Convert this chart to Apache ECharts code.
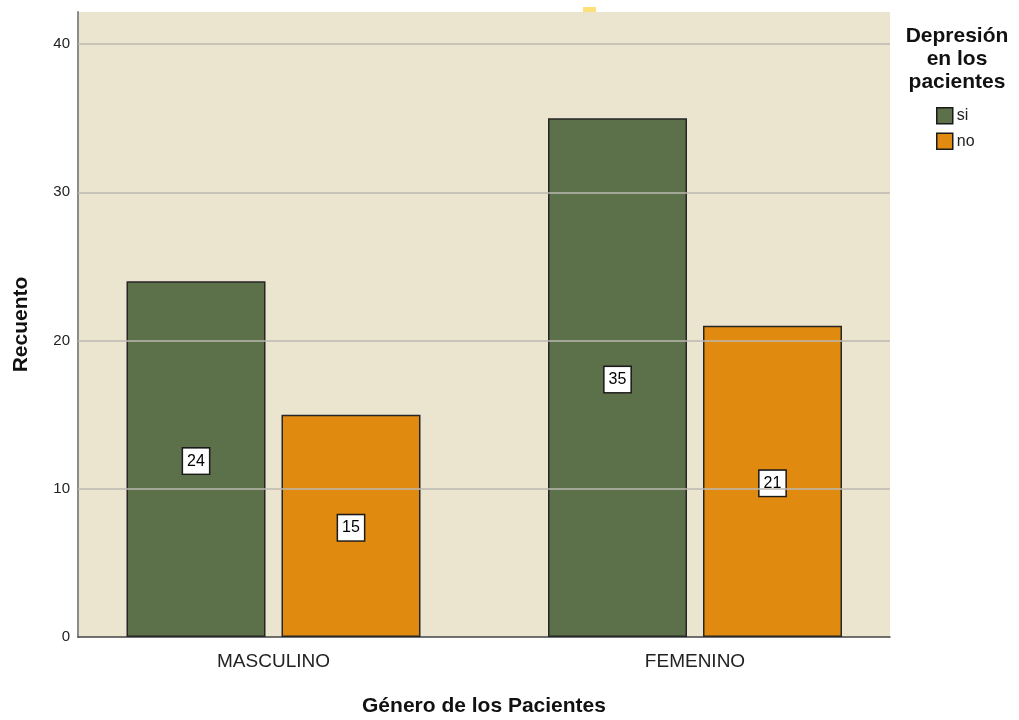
<!DOCTYPE html>
<html>
<head>
<meta charset="utf-8">
<script src="https://cdn.jsdelivr.net/npm/echarts@6/dist/echarts.min.js"></script>
<style>
  html, body { margin: 0; padding: 0; background: #ffffff; }
  #chart { width: 1019px; height: 720px; }
</style>
</head>
<body>
<div id="chart"></div>
<script>
// Recuento de pacientes por género y depresión
const categories = ['MASCULINO', 'FEMENINO'];
const seriesNames = ['si', 'no'];
const valuesSi = [24, 35];
const valuesNo = [15, 21];
const gridValues = [10, 20, 30, 40];

const FONT = '"Liberation Sans", Arial, sans-serif';
const Y_MAX = 42.16;

const chart = echarts.init(document.getElementById('chart'), null, { renderer: 'canvas' });

const labelStyle = {
  show: true,
  position: 'inside',
  offset: [0, 2],
  color: '#000',
  fontFamily: FONT,
  fontSize: 16,
  lineHeight: 16,
  backgroundColor: '#ffffff',
  borderColor: '#1a1a1a',
  borderWidth: 1.5,
  padding: [5, 4, 4, 4]
};

chart.setOption({
  animation: false,
  backgroundColor: '#ffffff',
  grid: [
    { left: 78, top: 12, width: 812, height: 625, show: true, backgroundColor: '#ebe4cf', borderWidth: 0,
      containLabel: false, outerBoundsMode: 'none' },
    { left: 62.75, top: 12, width: 843, height: 625, show: false,
      containLabel: false, outerBoundsMode: 'none' }
  ],
  xAxis: [
    {
      gridIndex: 0, type: 'category', data: categories,
      axisLine: { show: true, lineStyle: { color: '#444444', width: 1.5 } },
      axisTick: { show: false }, axisLabel: { show: false },
      name: 'Género de los Pacientes', nameLocation: 'middle', nameGap: 59,
      nameTextStyle: { fontFamily: FONT, fontSize: 21, fontWeight: 'bold', color: '#111' }
    },
    {
      gridIndex: 1, type: 'category', data: categories,
      axisLine: { show: false }, axisTick: { show: false },
      axisLabel: { fontFamily: FONT, fontSize: 19, color: '#222', margin: 15 }
    }
  ],
  yAxis: [
    {
      gridIndex: 0, type: 'value', min: 0, max: Y_MAX, interval: 10,
      axisLine: { show: true, lineStyle: { color: '#8c8c8c', width: 2 } },
      axisTick: { show: false },
      splitLine: { show: false },
      axisLabel: {
        fontFamily: FONT, fontSize: 15, color: '#222', margin: 8,
        padding: [6, 0, 0, 0],
        formatter: v => (v % 10 === 0 ? String(v) : '')
      },
      name: 'Recuento', nameLocation: 'middle', nameGap: 46, nameRotate: 90,
      nameTextStyle: { fontFamily: FONT, fontSize: 21, fontWeight: 'bold', color: '#111' }
    },
    {
      gridIndex: 1, type: 'value', min: 0, max: Y_MAX, show: false
    }
  ],
  legend: {
    orient: 'vertical', left: 936, top: 107, padding: 0,
    itemWidth: 16, itemHeight: 16, itemGap: 8,
    icon: 'rect',
    itemStyle: { borderColor: '#1a1a1a', borderWidth: 1.5 },
    textStyle: { fontFamily: FONT, fontSize: 16, lineHeight: 16, color: '#222', padding: [0, 0, 0, -1] },
    data: seriesNames
  },
  graphic: [
    {
      type: 'text', x: 957, y: 25,
      style: {
        text: 'Depresión\nen los\npacientes',
        align: 'center', verticalAlign: 'top',
        font: 'bold 21px ' + FONT, lineHeight: 23, fill: '#111'
      }
    },
    {
      type: 'rect', shape: { x: 583, y: 7, width: 13, height: 5 },
      style: { fill: '#fde07c' }, z: 10
    }
  ],
  series: [
    {
      type: 'line', xAxisIndex: 0, yAxisIndex: 0, data: [], z: 1, silent: true,
      markLine: {
        symbol: 'none', silent: true, label: { show: false },
        lineStyle: { color: '#bdb9b2', width: 1.5, type: 'solid' },
        data: gridValues.map(v => ({ yAxis: v }))
      }
    },
    {
      name: seriesNames[0], type: 'bar', xAxisIndex: 1, yAxisIndex: 1, z: 3,
      data: valuesSi, barWidth: 139, barGap: '11.5%',
      itemStyle: { color: '#5c7049', borderColor: '#262626', borderWidth: 1.5 },
      label: labelStyle
    },
    {
      name: seriesNames[1], type: 'bar', xAxisIndex: 1, yAxisIndex: 1, z: 3,
      data: valuesNo, barWidth: 139, barGap: '11.5%',
      itemStyle: { color: '#e08a10', borderColor: '#262626', borderWidth: 1.5 },
      label: labelStyle
    }
  ]
});
</script>
</body>
</html>
